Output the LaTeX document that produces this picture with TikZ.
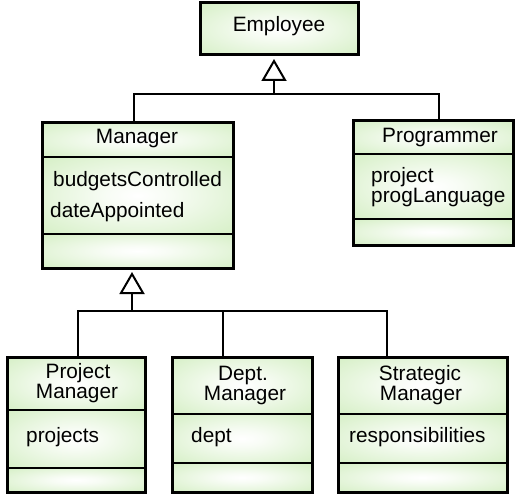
\documentclass[tikz,border=0pt]{standalone}
\usepackage{fontspec}
\setmainfont{Liberation Sans}
\usetikzlibrary{fit,arrows.meta}
\definecolor{cgreen}{RGB}{208,237,190}
\pgfdeclareradialshading{softrad}{\pgfpoint{0bp}{0bp}}{color(0bp)=(white); color(8bp)=(white!85!cgreen); color(40bp)=(cgreen); color(50bp)=(cgreen)}
\tikzset{
  compart/.style={shading=softrad},
  divider/.style={line width=1.5bp},
  classframe/.style={draw, line width=3bp, inner sep=0pt},
  conn/.style={line width=2bp},
  gen/.style={conn, shorten >=2.5bp, -{Triangle[open, length=22bp, width=25bp, fill=white]}},
  lbl/.style={font=\fontsize{20.8bp}{21bp}\selectfont, inner sep=0pt, anchor=base},
  attr/.style={lbl, anchor=base west},
}
% #1 name, #2 x1, #3 y1, #4 x2, #5 y2, #6 divider 1, #7 divider 2
\newcommand\umlclass[7]{%
  \shade[compart] (#2,#3) rectangle (#4,#6);
  \shade[compart] (#2,#6) rectangle (#4,#7);
  \shade[compart] (#2,#7) rectangle (#4,#5);
  \draw[divider] (#2,#6) -- (#4,#6);
  \draw[divider] (#2,#7) -- (#4,#7);
  \node[classframe, fit={(#2,#3)(#4,#5)}] (#1) {};
}
\begin{document}
\begin{tikzpicture}[x=1bp,y=-1bp]
\useasboundingbox (0,0) rectangle (524,503);
% Employee
\shade[compart] (200,3) rectangle (358,55);
\node[classframe, fit={(200,3)(358,55)}] (emp) {};
\node[lbl] (empN) at (279,32) {Employee};
% classes
\umlclass{mgr}{42}{123}{233}{268}{157}{234}
\umlclass{prog}{353}{121}{513}{245}{154}{219}
\umlclass{pm}{7}{357}{145}{492}{410}{468}
\umlclass{dm}{172}{357}{312}{492}{414}{463}
\umlclass{sm}{338}{357}{507}{492}{414}{463}
% texts
\node[lbl] (mgrN) at (137,144) {Manager};
\node[attr] (mgrA1) at (53,187) {budgetsControlled};
\node[attr] (mgrA2) at (50,217) {dateAppointed};
\node[lbl] (progN) at (440,143) {Programmer};
\node[attr] (progA1) at (371,183) {project};
\node[attr] (progA2) at (371,203) {progLanguage};
\node[lbl] (pmN1) at (78,378) {Project};
\node[lbl] (pmN2) at (77,398) {Manager};
\node[attr] (pmA) at (26,442) {projects};
\node[lbl] (dmN1) at (243,380) {Dept.};
\node[lbl] (dmN2) at (245,400) {Manager};
\node[attr] (dmA) at (191,442) {dept};
\node[lbl] (smN1) at (420,380) {Strategic};
\node[lbl] (smN2) at (421,400) {Manager};
\node[attr] (smA) at (349,442) {responsibilities};
% generalisations
\coordinate (j1) at (274,94);
\draw[conn] ([xshift=-3.5bp]mgr.north) |- (j1);
\draw[conn] ([xshift=6bp]prog.north) |- (j1);
\draw[gen] (j1) -- (j1 |- emp.south);
\coordinate (j2) at (132,311);
\draw[conn] ([xshift=2bp]pm.north) |- (j2);
\draw[conn] ([xshift=-19bp]dm.north) |- (j2);
\draw[conn] ([xshift=-35.5bp]sm.north) |- (j2);
\draw[gen] (j2) -- (j2 |- mgr.south);
\end{tikzpicture}
\end{document}
